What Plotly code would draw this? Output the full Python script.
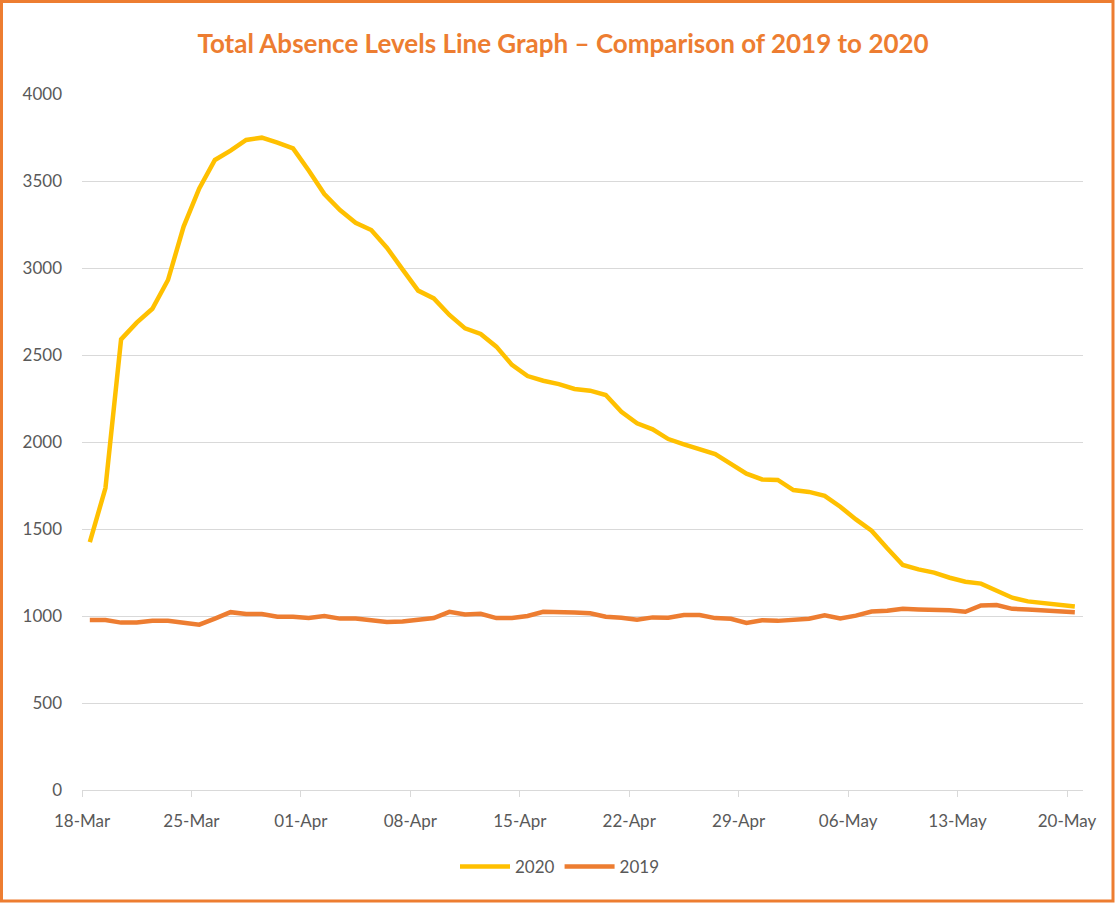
import pandas as pd
import plotly.graph_objects as go

start_date = "2020-03-18"
n_days = 64
dates = pd.date_range(start_date, periods=n_days, freq="D")

values_2020 = [1425, 1735, 2590, 2686, 2766, 2931, 3238, 3457, 3621, 3674,
               3736, 3749, 3720, 3687, 3560, 3425, 3333, 3260, 3218, 3117,
               2992, 2870, 2825, 2730, 2653, 2621, 2548, 2443, 2379, 2352,
               2333, 2305, 2295, 2270, 2174, 2107, 2073, 2017, 1987, 1960,
               1931, 1874, 1818, 1785, 1782, 1724, 1713, 1690, 1628, 1555,
               1490, 1389, 1293, 1268, 1249, 1220, 1197, 1186, 1144, 1105,
               1084, 1073, 1061, 1055]

values_2019 = [977, 977, 962, 962, 972, 972, 961, 950, 985, 1022,
               1012, 1012, 996, 996, 988, 1000, 985, 985, 975, 965,
               968, 977, 988, 1024, 1009, 1013, 988, 988, 1000, 1024,
               1024, 1020, 1016, 996, 990, 978, 992, 990, 1006, 1006,
               988, 984, 960, 976, 972, 978, 984, 1004, 986, 1002,
               1026, 1030, 1041, 1037, 1035, 1033, 1024, 1061, 1063, 1041,
               1037, 1033, 1024, 1022]

tick_dates = pd.date_range(start_date, periods=10, freq="7D")
y_ticks = [0, 500, 1000, 1500, 2000, 2500, 3000, 3500, 4000]

# points sit in the middle of each day (Excel "between tick marks")
x_pts = dates + pd.Timedelta(hours=12)

W, H = 1115, 903
ml, mr, mt, mb = 82, 32, 94, 113
pw, ph = W - ml - mr, H - mt - mb

fig = go.Figure()
fig.add_trace(go.Scatter(x=x_pts, y=values_2020, name="2020", mode="lines",
                         line=dict(color="#FFC000", width=4.5)))
fig.add_trace(go.Scatter(x=x_pts, y=values_2019, name="2019", mode="lines",
                         line=dict(color="#ED7D31", width=4.5)))

x_end = pd.Timestamp(start_date) + pd.Timedelta(days=pw / (985 / 63))

fig.update_layout(
    width=W, height=H,
    margin=dict(l=ml, r=mr, t=mt, b=mb, pad=0),
    paper_bgcolor="white", plot_bgcolor="white",
    font=dict(family="Lato, 'Open Sans', sans-serif", size=16, color="#595959"),
    title=dict(text="<b>Total Absence Levels Line Graph – Comparison of 2019 to 2020</b>",
               x=0.505, xanchor="center", y=1 - 44 / H, yanchor="middle",
               font=dict(size=26, color="#ED7D31")),
    xaxis=dict(range=[pd.Timestamp(start_date), x_end], tickvals=tick_dates,
               tickformat="%d-%b", showgrid=False, showline=True,
               linecolor="#D9D9D9", linewidth=1, ticks="outside", ticklen=6,
               tickcolor="#D9D9D9", zeroline=False, ticklabelstandoff=10,
               tickfont=dict(size=17)),
    yaxis=dict(range=[0, 4000], tickvals=y_ticks, showgrid=True,
               gridcolor="#D9D9D9", gridwidth=1, zeroline=False, showline=False,
               ticklabelstandoff=19, tickfont=dict(size=17)),
    legend=dict(orientation="h", x=(560 - ml) / pw, xanchor="center",
                y=-(867 - 790) / ph, yanchor="middle",
                font=dict(size=17, color="#595959"), itemwidth=50),
    showlegend=True,
)

fig.add_shape(type="rect", xref="paper", yref="paper",
              x0=(1.5 - ml) / pw, x1=(1113 - ml) / pw,
              y0=-(901 - mt - ph) / ph, y1=1 + (mt - 1.5) / ph,
              line=dict(color="#ED7D31", width=3), fillcolor="rgba(0,0,0,0)",
              layer="above")

fig.write_html("out.html", config={"displayModeBar": False},
               post_script="document.body.style.margin='0';document.body.style.overflow='hidden';")
